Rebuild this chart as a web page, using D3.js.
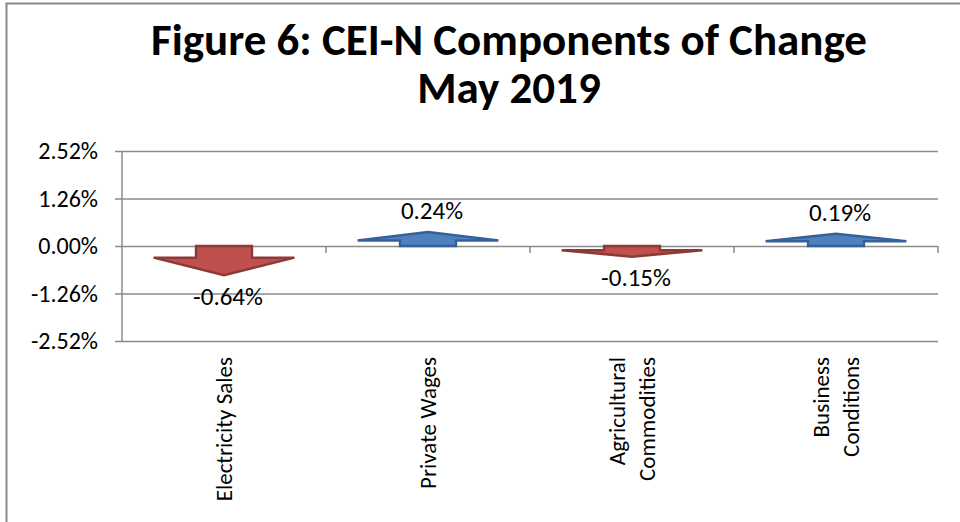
<!DOCTYPE html>
<html>
<head>
<meta charset="utf-8">
<script src="https://cdn.jsdelivr.net/npm/d3@7"></script>
<style>
  body { margin: 0; background: #fff; }
  svg text { font-family: Carlito, Calibri, "Open Sans", sans-serif; fill: #000; }
</style>
</head>
<body>
<div id="chart"></div>
<script>
// chart data
const categories = ["Electricity Sales", "Private Wages", "Agricultural\nCommodities", "Business\nConditions"];
const changes = [-0.64, 0.24, -0.15, 0.19];
const yTicks = [-2.52, -1.26, 0, 1.26, 2.52];
const titleLines = ["Figure 6: CEI-N Components of Change", "May 2019"];

const pct = d => d.toFixed(2) + "%";

const widthSvg = 960, heightSvg = 522;
const margin = {top: 151, right: 22, bottom: 181, left: 122};
const width = widthSvg - margin.left - margin.right;
const height = heightSvg - margin.top - margin.bottom;

const svg = d3.select("#chart").append("svg")
    .attr("width", widthSvg)
    .attr("height", heightSvg);

// outer chart frame (only top/left visible in the crop)
svg.append("path")
    .attr("d", "M6.5,523 V3.5 H961")
    .attr("fill", "none")
    .attr("stroke", "#898989")
    .attr("stroke-width", 2);

const title = svg.append("text")
    .attr("text-anchor", "middle")
    .style("font-weight", "bold")
    .style("font-size", "45px");
title.selectAll("tspan")
    .data(titleLines)
    .enter().append("tspan")
    .attr("x", 509)
    .attr("y", (d, i) => 55 + i * 48)
    .text(d => d);

const x = d3.scaleBand().domain(categories).range([0, width]);
const y = d3.scaleLinear().domain([-2.52, 2.52]).range([height, 0]);

const g = svg.append("g")
    .attr("transform", "translate(" + margin.left + "," + margin.top + ")");

// gridlines + y axis
const yAxis = g.append("g")
    .call(d3.axisLeft(y).tickValues(yTicks).tickSize(-width).tickPadding(24)
        .tickFormat(pct));
yAxis.select(".domain").remove();
yAxis.selectAll(".tick line")
    .attr("x1", -7)
    .attr("stroke", "#8a8a8a")
    .attr("stroke-width", 1.5);
yAxis.selectAll(".tick text")
    .style("font-size", "24px")
    .style("font-family", 'Carlito, Calibri, "Open Sans", sans-serif');

g.append("line")
    .attr("x1", 0).attr("x2", 0)
    .attr("y1", 0).attr("y2", height)
    .attr("stroke", "#8a8a8a")
    .attr("stroke-width", 1.5);

// category axis sits on zero
const bounds = categories.map(c => x(c)).concat([width]);
g.selectAll(".xtick")
    .data(bounds.slice(1))
    .enter().append("line")
    .attr("x1", d => d).attr("x2", d => d)
    .attr("y1", y(0)).attr("y2", y(0) + 7)
    .attr("stroke", "#8a8a8a")
    .attr("stroke-width", 1.5);

// block arrows
function arrowPath(d, i) {
  const cx = x(categories[i]) + x.bandwidth() / 2;
  const bw = x.bandwidth() * 0.137, ww = x.bandwidth() * 0.345;
  const y0 = y(0);
  const s = d < 0 ? 1 : -1;
  const total = Math.abs(y(d) - y0) + 5;
  const body = total * 0.4;
  return "M" + (cx - bw) + "," + y0 +
    "L" + (cx + bw) + "," + y0 +
    "L" + (cx + bw) + "," + (y0 + s * body) +
    "L" + (cx + ww) + "," + (y0 + s * body) +
    "L" + cx + "," + (y0 + s * total) +
    "L" + (cx - ww) + "," + (y0 + s * body) +
    "L" + (cx - bw) + "," + (y0 + s * body) + "Z";
}

g.selectAll(".arrow")
    .data(changes)
    .enter().append("path")
    .attr("class", "arrow")
    .attr("d", arrowPath)
    .attr("fill", d => d < 0 ? "#c0504d" : "#4f81bd")
    .attr("stroke", d => d < 0 ? "#8c3a37" : "#35619a")
    .attr("stroke-width", 2.5)
    .attr("stroke-linejoin", "miter");

g.selectAll(".value")
    .data(changes)
    .enter().append("text")
    .attr("class", "value")
    .attr("x", (d, i) => x(categories[i]) + x.bandwidth() / 2 + 4)
    .attr("y", d => d < 0 ? y(d) + 26 : y(d) - 26)
    .attr("text-anchor", "middle")
    .attr("dominant-baseline", "central")
    .style("font-size", "25px")
    .text(pct);

// rotated category labels
const cat = g.selectAll(".cat")
    .data(categories)
    .enter().append("text")
    .attr("class", "cat")
    .attr("transform", d => "translate(" + (x(d) + x.bandwidth() / 2) + "," + (height + 16) + ") rotate(-90)")
    .attr("text-anchor", "end")
    .style("font-size", "23px");
cat.each(function(d) {
  const lines = d.split("\n");
  d3.select(this).selectAll("tspan")
    .data(lines)
    .enter().append("tspan")
    .attr("x", 0)
    .attr("y", (l, j) => (j - (lines.length - 1) / 2) * 30)
    .attr("dy", "0.35em")
    .text(l => l);
});
</script>
</body>
</html>
